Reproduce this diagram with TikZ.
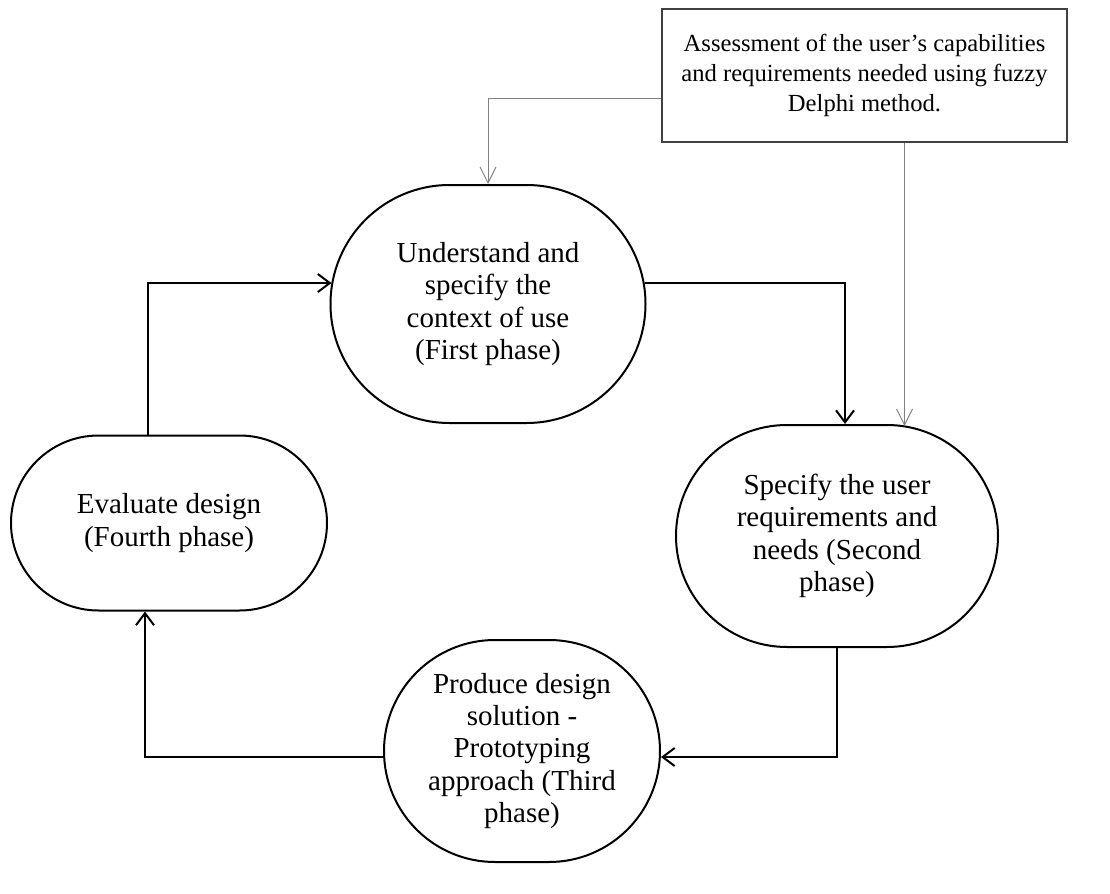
\documentclass[tikz,border=0pt]{standalone}
\usepackage{fontspec}
\setmainfont{Liberation Serif}
\usetikzlibrary{shapes.misc, arrows.meta, calc}

\begin{document}
\begin{tikzpicture}[
    x=0.5pt, y=-0.5pt,
    >={Straight Barb[length=6pt, width=9pt]},
    phase/.style={draw, rounded rectangle, line width=1pt, align=center,
        inner sep=0pt, font=\fontsize{14.5}{16.2}\selectfont},
    notebox/.style={draw=black!75, line width=0.7pt, align=center,
        inner sep=0pt, font=\fontsize{12.3}{15}\selectfont},
    flow/.style={->, line width=1pt},
    feed/.style={-{Straight Barb[length=8pt, width=8pt]}, gray, line width=0.5pt}
]

\useasboundingbox (0,0) rectangle (1110,894);

% Phases
\node[phase, minimum width=157.5pt, minimum height=119pt] (first) at (488,304)
    {Understand and\\specify the\\context of use\\(First phase)};
\node[phase, minimum width=161pt, minimum height=111pt] (second) at (837,536)
    {Specify the user\\requirements and\\needs (Second\\phase)};
\node[phase, minimum width=138pt, minimum height=111pt] (third) at (522,751)
    {Produce design\\solution -\\Prototyping\\approach (Third\\phase)};
\node[phase, minimum width=158pt, minimum height=87.5pt] (fourth) at (169,523)
    {Evaluate design\\(Fourth phase)};

% Assessment box
\node[notebox, minimum width=202.5pt, minimum height=66.5pt] (fdm) at (864.5,75.5)
    {Assessment of the user’s capabilities\\and requirements needed using fuzzy\\Delphi method.};

% Cycle
\draw[flow] ([xshift=-1pt,yshift=10.5pt]first.east) -| ([xshift=4pt]second.north);
\draw[flow] (second.south) |- ([yshift=-3pt]third.east);
\draw[flow] ([yshift=-3pt]third.west) -| ([xshift=-12pt]fourth.south);
\draw[flow] ([xshift=-10.5pt]fourth.north) |- ([xshift=1pt,yshift=10.5pt]first.west);

% Fuzzy Delphi feeds
\draw[feed] ($(fdm.west)+(0,23)$) -| (first.north);
\draw[feed] ([xshift=20pt]fdm.south) -- ([xshift=20pt,yshift=-1pt]fdm.south |- second.north);

\end{tikzpicture}
\end{document}
